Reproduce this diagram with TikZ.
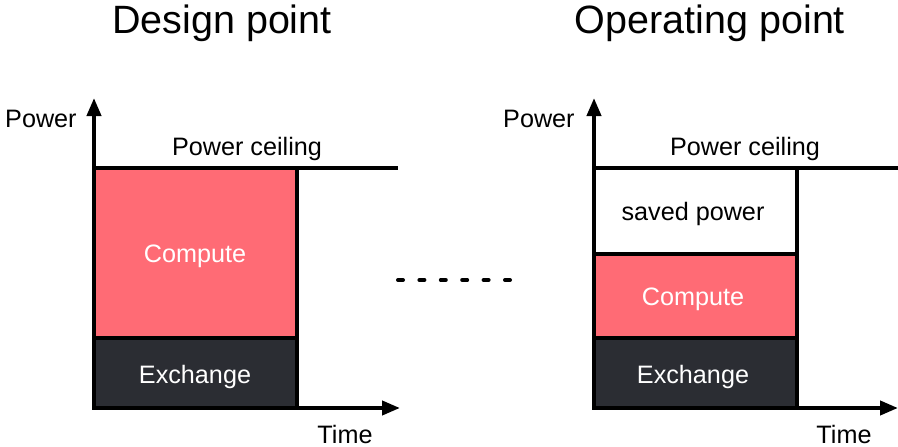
\documentclass[tikz,border=0pt]{standalone}
\usepackage{fontspec}
\setmainfont{Liberation Sans}
\usetikzlibrary{arrows.meta}
\definecolor{computecol}{HTML}{FF6B75}
\definecolor{exchcol}{HTML}{2B2D33}
\tikzset{
  lbl/.style={font=\fontsize{25.2}{29}\selectfont, inner sep=0pt, anchor=base},
  ttl/.style={font=\fontsize{39.5}{45}\selectfont, inner sep=0pt, anchor=base},
  box/.style={draw=black, line width=4pt, inner sep=0pt, outer sep=0pt, anchor=north west, minimum width=203pt},
  axis/.style={line width=4pt, -{Triangle[length=18pt,width=14pt]}},
  ceil/.style={line width=4pt},
}
\begin{document}
\begin{tikzpicture}[x=1pt,y=-1pt]
\useasboundingbox (0,0) rectangle (898,447);
% titles
\node[ttl] (t1) at (222,34) {Design point};
\node[ttl] (t2) at (710,34) {Operating point};
% left panel
\node[box, fill=computecol, minimum height=170pt] (c1) at (94,168) {};
\node[box, fill=exchcol, minimum height=70pt] (e1) at (94,338) {};
\node[lbl, text=white] (c1t) at (195,262) {Compute};
\node[lbl, text=white] (e1t) at (195,383) {Exchange};
\coordinate (o1) at (94,408);
\coordinate (y1) at (94,98);
\coordinate (x1) at (400,408);
\coordinate (cl1) at (92,168);
\coordinate (cr1) at (398,168);
\draw[ceil] (cl1) -- (cr1);
\draw[axis] (o1) -- (y1);
\draw[axis] (o1) -- (x1);
\node[lbl, anchor=base west] (p1) at (5,127) {Power};
\node[lbl] (pc1) at (247,155) {Power ceiling};
\node[lbl] (tm1) at (345,443) {Time};
% dots
\coordinate (d1) at (398,280);
\coordinate (d2) at (510,280);
\draw[line width=4pt, line cap=round, dash pattern=on 5pt off 16.4pt] (d1) -- (d2);
% right panel
\node[box, fill=white, minimum height=86pt] (s2) at (594,168) {};
\node[box, fill=computecol, minimum height=84pt] (c2) at (594,254) {};
\node[box, fill=exchcol, minimum height=70pt] (e2) at (594,338) {};
\node[lbl] (s2t) at (693,220) {saved power};
\node[lbl, text=white] (c2t) at (693,305) {Compute};
\node[lbl, text=white] (e2t) at (693,383) {Exchange};
\coordinate (o2) at (594,408);
\coordinate (y2) at (594,98);
\coordinate (x2) at (898,408);
\coordinate (cl2) at (592,168);
\coordinate (cr2) at (898,168);
\draw[ceil] (cl2) -- (cr2);
\draw[axis] (o2) -- (y2);
\draw[axis] (o2) -- (x2);
\node[lbl, anchor=base west] (p2) at (503,127) {Power};
\node[lbl] (pc2) at (745,155) {Power ceiling};
\node[lbl] (tm2) at (844,443) {Time};
\end{tikzpicture}
\end{document}
